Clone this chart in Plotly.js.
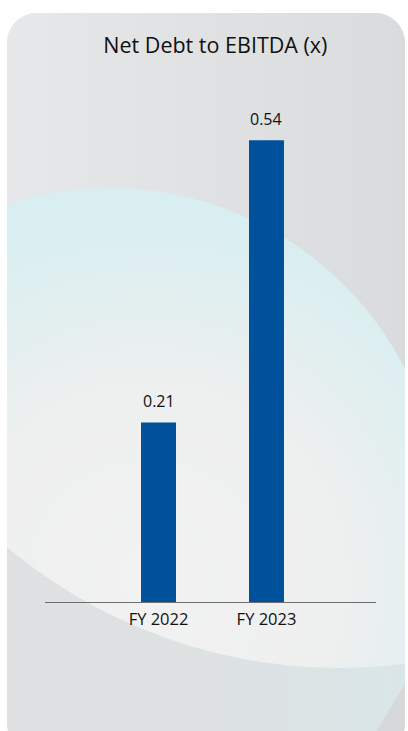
<!DOCTYPE html>
<html>
<head>
<meta charset="utf-8">
<script src="https://cdn.plot.ly/plotly-3.0.1.min.js"></script>
<style>
  html, body { margin: 0; padding: 0; background: #ffffff; }
  #wrap { position: relative; width: 408px; height: 731px; overflow: hidden; }
  #bg { position: absolute; left: 0; top: 0; }
  #chart { position: absolute; left: 0; top: 0; width: 408px; height: 731px; }
</style>
</head>
<body>
<div id="wrap">
  <svg id="bg" width="408" height="731" viewBox="0 0 408 731">
    <defs>
      <linearGradient id="base" x1="0" y1="0" x2="1" y2="0">
        <stop offset="0" stop-color="#e7e8e9"/>
        <stop offset="1" stop-color="#dadbdd"/>
      </linearGradient>
      <linearGradient id="lower" x1="0" y1="0" x2="1" y2="0">
        <stop offset="0" stop-color="#dfe0e1"/>
        <stop offset="0.6" stop-color="#dde2e3"/>
        <stop offset="1" stop-color="#d9e6e8"/>
      </linearGradient>
      <radialGradient id="light" gradientUnits="userSpaceOnUse" cx="150" cy="580" r="360">
        <stop offset="0" stop-color="#f2f2f2"/>
        <stop offset="0.55" stop-color="#eeefef"/>
        <stop offset="0.85" stop-color="#e0eff0"/>
        <stop offset="1" stop-color="#d9eef0"/>
      </radialGradient>
      <clipPath id="card">
        <rect x="7" y="13" width="398" height="740" rx="30" ry="30"/>
      </clipPath>
      <clipPath id="bigA">
        <circle cx="340" cy="149" r="519"/>
      </clipPath>
    </defs>
    <g clip-path="url(#card)">
      <rect x="0" y="0" width="408" height="760" fill="url(#base)"/>
      <rect x="0" y="520" width="408" height="240" fill="url(#lower)"/>
      <g clip-path="url(#bigA)">
        <rect x="0" y="0" width="408" height="760" fill="url(#base)"/>
        <circle cx="110" cy="519" r="331" fill="url(#light)"/>
      </g>
      <path d="M359 760 L408 679 L408 760 Z" fill="#d6d8da"/>
    </g>
  </svg>
  <div id="chart"></div>
</div>
<script>
// ---- data ----
var categories = ["FY 2022", "FY 2023"];
var values = [0.21, 0.54];
var valueLabels = ["0.21", "0.54"];
var chartTitle = "Net Debt to EBITDA (x)";

var FONT = "'Open Sans', 'Noto Sans', sans-serif";
var TXT = "#111111";

var trace = {
  type: "bar",
  x: categories,
  y: values,
  width: 0.324,
  marker: { color: "#00519c", line: { width: 0 } },
  hoverinfo: "none"
};

var annotations = categories.map(function (c, i) {
  return {
    x: c, y: values[i], xref: "x", yref: "y",
    text: valueLabels[i], showarrow: false,
    yanchor: "bottom", yshift: 8,
    font: { family: FONT, size: 16, color: TXT }
  };
});

var layout = {
  width: 408, height: 731,
  margin: { l: 45, r: 32, t: 89, b: 129, pad: 0 },
  paper_bgcolor: "rgba(0,0,0,0)",
  plot_bgcolor: "rgba(0,0,0,0)",
  showlegend: false,
  title: {
    text: chartTitle,
    x: 210 / 408, xref: "paper", xanchor: "center",
    y: 1 - 45 / 731, yref: "container", yanchor: "middle",
    font: { family: FONT, size: 21.5, color: TXT }
  },
  xaxis: {
    type: "category",
    range: [-1.051, 2.014],
    showline: true, linecolor: "#6d6e71", linewidth: 1.2,
    showgrid: false, zeroline: false, ticks: "",
    tickfont: { family: FONT, size: 16.5, color: TXT },
    ticklabelstandoff: 2,
    fixedrange: true
  },
  yaxis: {
    range: [0, 0.6],
    visible: false, showgrid: false, zeroline: false,
    fixedrange: true
  },
  annotations: annotations
};

Plotly.newPlot("chart", [trace], layout, { displayModeBar: false, staticPlot: true });
</script>
</body>
</html>
